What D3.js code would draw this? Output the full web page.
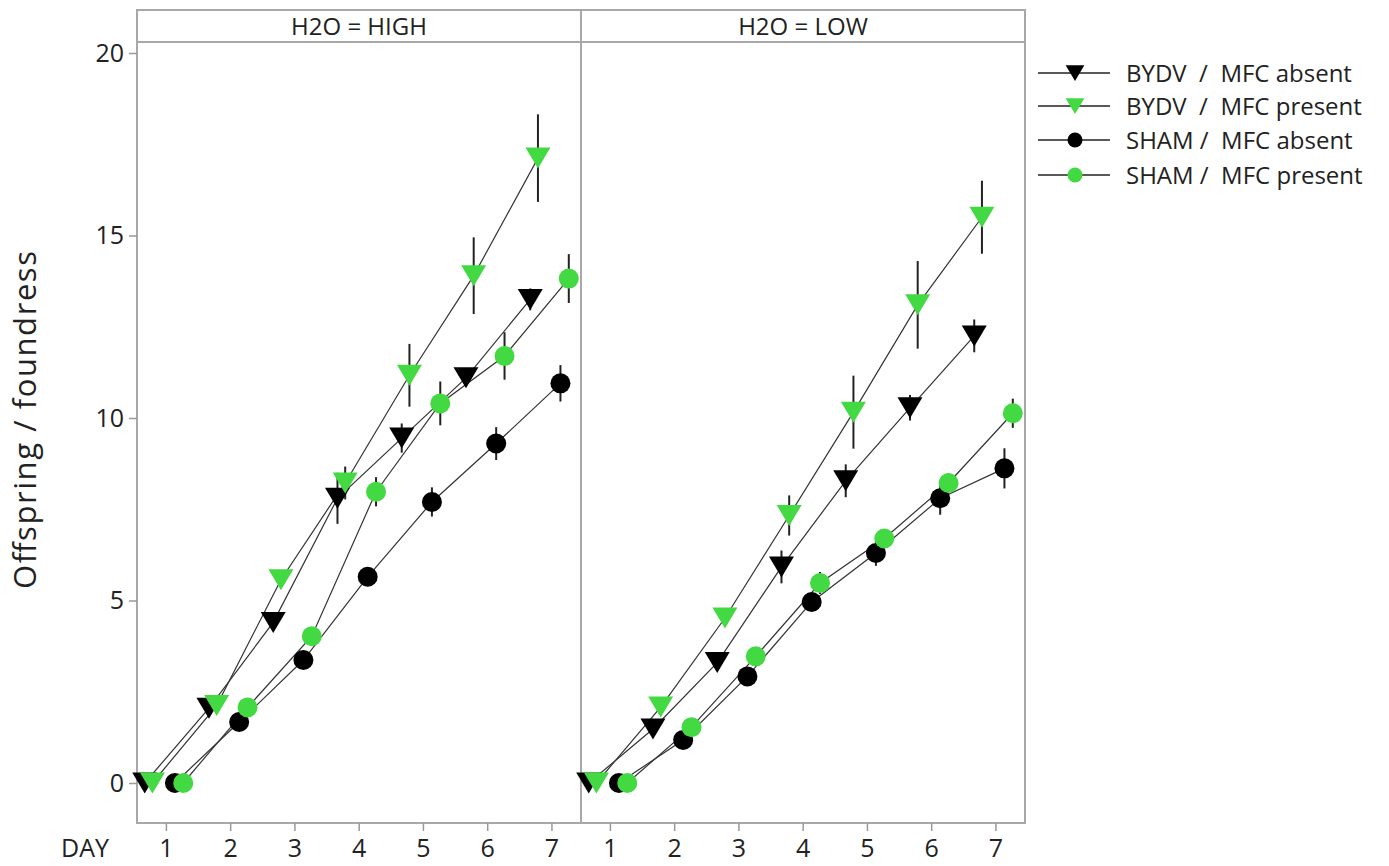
<!DOCTYPE html>
<html>
<head>
<meta charset="utf-8">
<script src="https://d3js.org/d3.v7.min.js"></script>
<style>
  body { margin: 0; background: #fff; }
  text { font-family: "Open Sans", "Noto Sans", sans-serif; fill: #222; }
  .axis path { display: none; }
  .axis line { stroke: #999; stroke-width: 1.5; }
  .axis text { font-size: 25px; fill: #222; }
</style>
</head>
<body>
<svg id="chart" width="1389" height="866"></svg>
<script>
  // categories
  const days = [1, 2, 3, 4, 5, 6, 7];
  const panels = ['H2O = HIGH', 'H2O = LOW'];
  const seriesNames = ['BYDV  /  MFC absent', 'BYDV  /  MFC present', 'SHAM /  MFC absent', 'SHAM /  MFC present'];
  const yTicks = [0, 5, 10, 15, 20];

  // H2O = HIGH, means and error half-widths
  const bydvAbsentHigh = [0, 2.05, 4.4, 7.8, 9.45, 11.1, 13.25];
  const bydvAbsentHighErr = [0, 0.1, 0.2, 0.7, 0.4, 0.25, 0.3];
  const bydvPresentHigh = [0, 2.12, 5.57, 8.22, 11.17, 13.9, 17.12];
  const bydvPresentHighErr = [0, 0.1, 0.2, 0.45, 0.86, 1.05, 1.2];
  const shamAbsentHigh = [0, 1.67, 3.37, 5.65, 7.7, 9.3, 10.95];
  const shamAbsentHighErr = [0, 0.1, 0.15, 0.25, 0.4, 0.45, 0.5];
  const shamPresentHigh = [0, 2.07, 4.02, 7.98, 10.4, 11.7, 13.82];
  const shamPresentHighErr = [0, 0.1, 0.15, 0.4, 0.6, 0.65, 0.67];

  // H2O = LOW
  const bydvAbsentLow = [0, 1.48, 3.3, 5.92, 8.28, 10.28, 12.25];
  const bydvAbsentLowErr = [0, 0.1, 0.2, 0.45, 0.45, 0.35, 0.45];
  const bydvPresentLow = [0, 2.08, 4.52, 7.33, 10.16, 13.1, 15.5];
  const bydvPresentLowErr = [0, 0.1, 0.2, 0.55, 1.0, 1.2, 1.0];
  const shamAbsentLow = [0, 1.18, 2.92, 4.96, 6.3, 7.8, 8.62];
  const shamAbsentLowErr = [0, 0.1, 0.15, 0.2, 0.35, 0.45, 0.55];
  const shamPresentLow = [0, 1.53, 3.47, 5.48, 6.7, 8.22, 10.13];
  const shamPresentLowErr = [0, 0.1, 0.15, 0.3, 0.2, 0.25, 0.4];

  const green = '#43d943';
  const styles = [
    { shape: 'tri', color: '#000' },
    { shape: 'tri', color: green },
    { shape: 'circ', color: '#000' },
    { shape: 'circ', color: green }
  ];
  const dodge = [-0.33, -0.21, 0.14, 0.27];

  const panelData = [
    [[bydvAbsentHigh, bydvAbsentHighErr], [bydvPresentHigh, bydvPresentHighErr],
     [shamAbsentHigh, shamAbsentHighErr], [shamPresentHigh, shamPresentHighErr]],
    [[bydvAbsentLow, bydvAbsentLowErr], [bydvPresentLow, bydvPresentLowErr],
     [shamAbsentLow, shamAbsentLowErr], [shamPresentLow, shamPresentLowErr]]
  ];

  const svg = d3.select('#chart');
  const frameTop = 10, stripH = 32, frameBottom = 823;
  const panelW = 444, left0 = 137;

  const y = d3.scaleLinear().domain([0, 20]).range([783, 53]);

  function marker(sel, shape, color, size) {
    if (shape === 'tri') {
      const w = size * 1.25, h = size * 1.05;
      sel.append('path')
        .attr('d', `M${-w / 2},${-h / 2}L${w / 2},${-h / 2}L0,${h / 2}Z`)
        .attr('fill', color);
    } else {
      sel.append('circle').attr('r', size / 2).attr('fill', color);
    }
  }

  panels.forEach((title, p) => {
    const x0 = left0 + p * panelW;
    const x = d3.scaleLinear().domain([0.55, 7.46]).range([x0, x0 + panelW]);
    const g = svg.append('g');

    // frame and strip
    g.append('rect')
      .attr('x', x0).attr('y', frameTop).attr('width', panelW).attr('height', frameBottom - frameTop)
      .attr('fill', 'none').attr('stroke', '#a8a8a8').attr('stroke-width', 2);
    g.append('line')
      .attr('x1', x0).attr('x2', x0 + panelW).attr('y1', frameTop + stripH).attr('y2', frameTop + stripH)
      .attr('stroke', '#a8a8a8').attr('stroke-width', 2);
    g.append('text')
      .attr('x', x0 + panelW / 2).attr('y', frameTop + stripH / 2 + 9)
      .attr('text-anchor', 'middle').attr('font-size', 24)
      .text(title);

    // x axis
    svg.append('g').attr('class', 'axis')
      .attr('transform', `translate(0,${frameBottom})`)
      .call(d3.axisBottom(x).tickValues(days).tickSize(8).tickPadding(8).tickFormat(d3.format('d')));

    const lineGen = d3.line().x(d => x(d.day)).y(d => y(d.v));

    panelData[p].forEach(([vals, errs], s) => {
      const pts = days.map((d, i) => ({ day: d + dodge[s], v: vals[i], e: errs[i] }));
      g.append('path').datum(pts)
        .attr('d', lineGen)
        .attr('fill', 'none').attr('stroke', '#333').attr('stroke-width', 1.2);
      // error bars sit behind the markers
      g.selectAll(null).data(pts.filter(d => d.e > 0)).enter().append('line')
        .attr('x1', d => x(d.day)).attr('x2', d => x(d.day))
        .attr('y1', d => y(d.v + d.e)).attr('y2', d => y(d.v - d.e))
        .attr('stroke', '#222').attr('stroke-width', 2);
    });

    panelData[p].forEach(([vals, errs], s) => {
      const pts = days.map((d, i) => ({ day: d + dodge[s], v: vals[i] }));
      pts.forEach(pt => {
        const m = g.append('g').attr('transform', `translate(${x(pt.day)},${y(pt.v)})`);
        marker(m, styles[s].shape, styles[s].color, 20);
      });
    });
  });

  // y axis
  svg.append('g').attr('class', 'axis')
    .attr('transform', `translate(${left0},0)`)
    .call(d3.axisLeft(y).tickValues(yTicks).tickSize(8).tickPadding(5));

  svg.append('text')
    .attr('x', 85).attr('y', 857).attr('text-anchor', 'middle').attr('font-size', 25)
    .text('DAY');

  svg.append('text')
    .attr('transform', 'translate(36,420) rotate(-90)')
    .attr('text-anchor', 'middle').attr('font-size', 31)
    .attr('textLength', 338).attr('lengthAdjust', 'spacing')
    .text('Offspring / foundress');

  // legend
  const legendY = [73, 106, 140, 175];
  seriesNames.forEach((name, s) => {
    const lg = svg.append('g').attr('transform', `translate(0,${legendY[s]})`);
    lg.append('line').attr('x1', 1038).attr('x2', 1110).attr('y1', 0).attr('y2', 0)
      .attr('stroke', '#222').attr('stroke-width', 1.5);
    const m = lg.append('g').attr('transform', 'translate(1075,0)');
    marker(m, styles[s].shape, styles[s].color, 15);
    lg.append('text').attr('x', 1126).attr('y', 8.5).attr('font-size', 24)
      .style('white-space', 'pre')
      .text(name);
  });
</script>
</body>
</html>
